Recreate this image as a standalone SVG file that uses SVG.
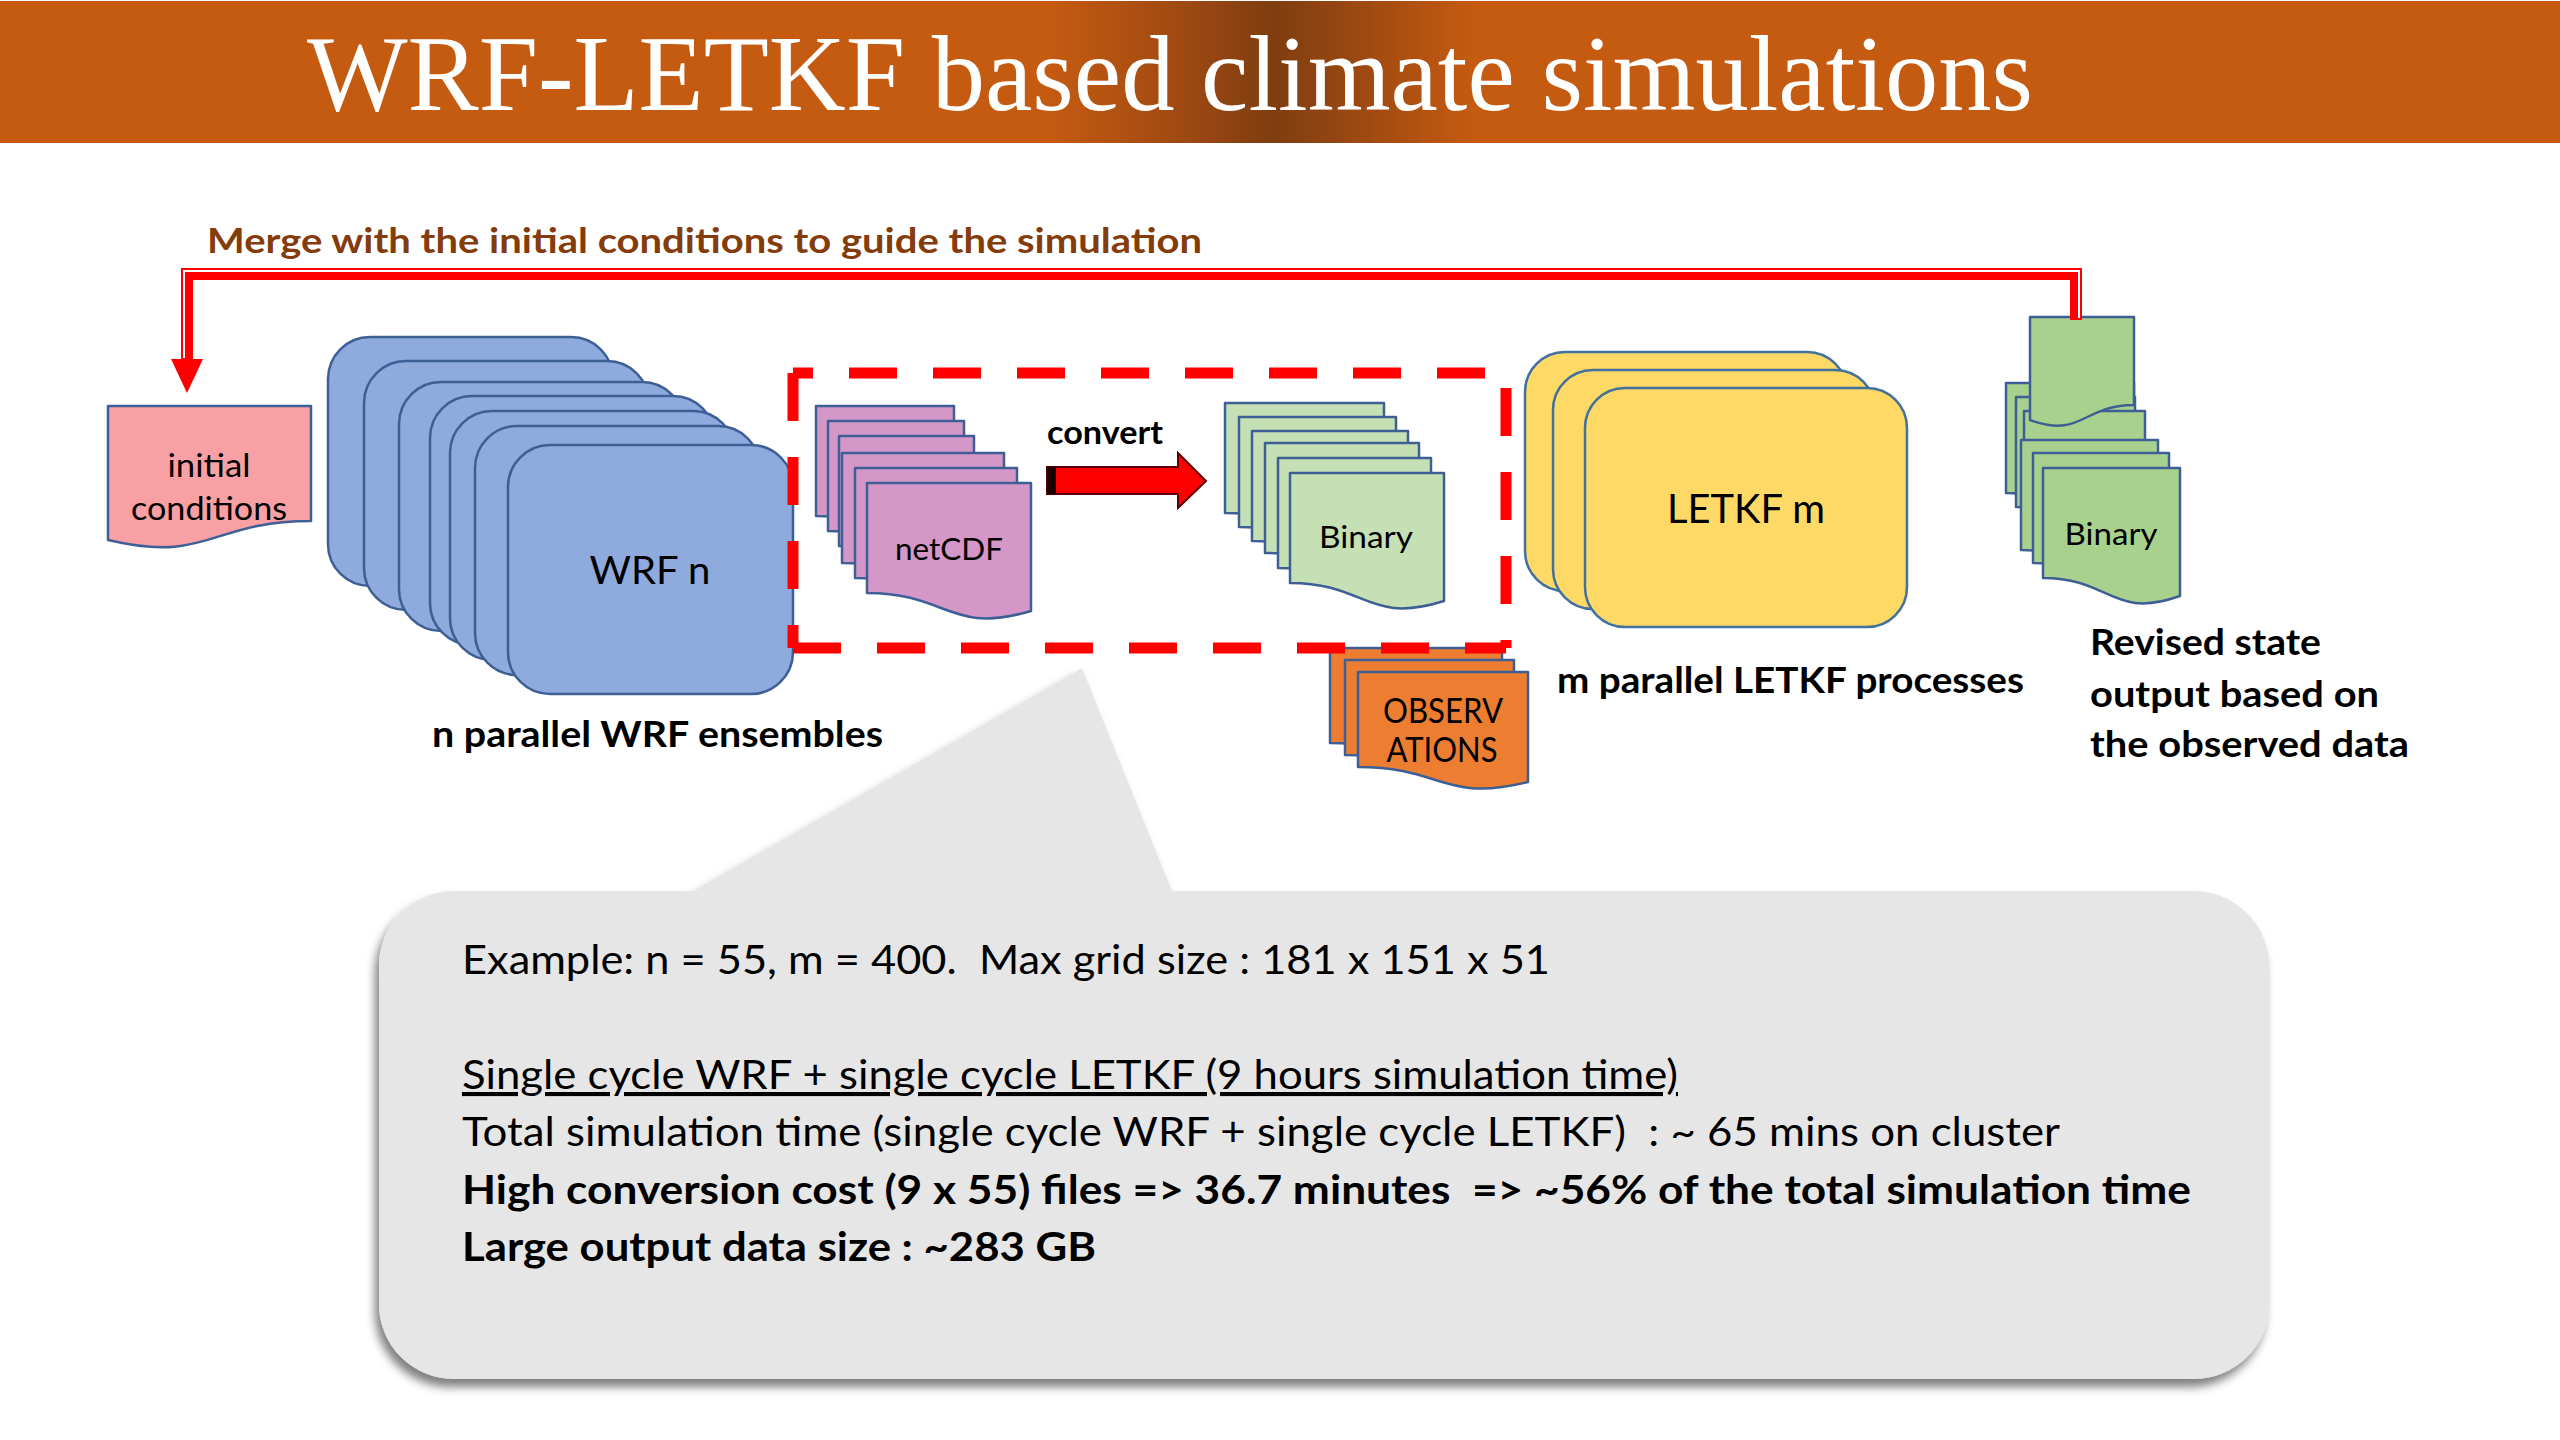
<svg xmlns="http://www.w3.org/2000/svg" width="2560" height="1440" viewBox="0 0 2560 1440">
  <defs>
    <linearGradient id="barGrad" x1="0" y1="0" x2="2560" y2="0" gradientUnits="userSpaceOnUse">
      <stop offset="0" stop-color="#C55A11"/>
      <stop offset="0.41" stop-color="#C55A11"/>
      <stop offset="0.46" stop-color="#A04A12"/>
      <stop offset="0.497" stop-color="#7F3D10"/>
      <stop offset="0.535" stop-color="#A04A12"/>
      <stop offset="0.575" stop-color="#C55A11"/>
      <stop offset="1" stop-color="#C55A11"/>
    </linearGradient>
    <filter id="shadow" x="-5%" y="-10%" width="110%" height="125%">
      <feDropShadow dx="-4" dy="8" stdDeviation="5" flood-color="#000" flood-opacity="0.5"/>
    </filter>
  </defs>
  <style>
    .doc { stroke: #3E5F95; stroke-width: 2.5; stroke-linejoin: round; }
    .wrf { fill: #8FAADC; stroke: #3E5F95; stroke-width: 2.5; }
    .letkf { fill: #FFD966; stroke: #41719C; stroke-width: 2.5; }
    .pink { fill: #F9A0A4; }
    .nc { fill: #D597C7; }
    .bin { fill: #C5E0B4; }
    .bin2 { fill: #A9D18E; }
    .obs { fill: #ED7D31; }
    .t { font-family: Lato, "Open Sans", "Liberation Sans", sans-serif; fill: #000; }
    .b { font-weight: bold; }
    .c { text-anchor: middle; }
    .dash { stroke: #FF0000; stroke-width: 11; fill: none; stroke-dasharray: 48 36; }
  </style>

  <rect width="2560" height="1440" fill="#FFFFFF"/>

  <g id="title-bar">
    <rect x="0" y="1" width="2560" height="142" fill="url(#barGrad)"/>
    <text x="307" y="110" font-family="'Liberation Serif', 'Times New Roman', serif" font-size="107" fill="#FFFFFF" textLength="1726" lengthAdjust="spacingAndGlyphs">WRF-LETKF based climate simulations</text>
  </g>

  <g id="callout">
    <path d="M454,891 H693 L1082,668 L1172,891 H2194 A75,75 0 0 1 2269,966 V1304 A75,75 0 0 1 2194,1379 H454 A75,75 0 0 1 379,1304 V966 A75,75 0 0 1 454,891 Z" fill="#E7E6E6" filter="url(#shadow)"/>
    <text class="t" x="462" y="974" font-size="41" textLength="1088" lengthAdjust="spacingAndGlyphs" xml:space="preserve">Example: n = 55, m = 400.  Max grid size : 181 x 151 x 51</text>
    <text class="t" x="462" y="1089" font-size="41" textLength="1216" lengthAdjust="spacingAndGlyphs" text-decoration="underline">Single cycle WRF + single cycle LETKF (9 hours simulation time)</text>
    <text class="t" x="462" y="1146" font-size="41" textLength="1598" lengthAdjust="spacingAndGlyphs" xml:space="preserve">Total simulation time (single cycle WRF + single cycle LETKF)  : ~ 65 mins on cluster</text>
    <text class="t b" x="462" y="1204" font-size="41" textLength="1729" lengthAdjust="spacingAndGlyphs" xml:space="preserve">High conversion cost (9 x 55) files =&gt; 36.7 minutes  =&gt; ~56% of the total simulation time</text>
    <text class="t b" x="462" y="1261" font-size="41" textLength="634" lengthAdjust="spacingAndGlyphs">Large output data size : ~283 GB</text>
  </g>

  <g id="initial-conditions">
    <path class="doc pink" d="M108,406 H311 V521 C209.5,521 209.5,564 108,540 Z"/>
    <text class="t c" x="209" y="477" font-size="32" textLength="83" lengthAdjust="spacingAndGlyphs">initial</text>
    <text class="t c" x="209" y="520" font-size="32" textLength="156" lengthAdjust="spacingAndGlyphs">conditions</text>
  </g>

  <g id="wrf-ensembles">
    <rect class="wrf" x="328" y="337" width="285" height="249" rx="42"/>
    <rect class="wrf" x="364" y="361" width="285" height="249" rx="42"/>
    <rect class="wrf" x="399" y="382" width="285" height="249" rx="42"/>
    <rect class="wrf" x="430" y="396" width="285" height="249" rx="42"/>
    <rect class="wrf" x="450" y="411" width="285" height="249" rx="42"/>
    <rect class="wrf" x="475" y="426" width="285" height="249" rx="42"/>
    <rect class="wrf" x="508" y="445" width="285" height="249" rx="42"/>
    <text class="t c" x="650" y="584" font-size="38" textLength="121" lengthAdjust="spacingAndGlyphs">WRF n</text>
    <text class="t b" x="432" y="747" font-size="37" textLength="451" lengthAdjust="spacingAndGlyphs">n parallel WRF ensembles</text>
  </g>

  <g id="netcdf-files">
    <path class="doc nc" d="M816,406 H954 V534 C885,558 885,516 816,516 Z"/>
    <path class="doc nc" d="M828,421 H964 V549 C896,573 896,531 828,531 Z"/>
    <path class="doc nc" d="M839,436 H974 V564 C906.5,588 906.5,546 839,546 Z"/>
    <path class="doc nc" d="M842,453 H1004 V581 C923,605 923,563 842,563 Z"/>
    <path class="doc nc" d="M855,468 H1017 V596 C936,620 936,578 855,578 Z"/>
    <path class="doc nc" d="M867,483 H1031 V611 C949,635 949,593 867,593 Z"/>
    <text class="t c" x="949" y="560" font-size="31" textLength="108" lengthAdjust="spacingAndGlyphs">netCDF</text>
  </g>

  <g id="binary-files">
    <path class="doc bin" d="M1225,403 H1384 V531 C1304.5,555 1304.5,513 1225,513 Z"/>
    <path class="doc bin" d="M1239,417 H1396 V545 C1317.5,569 1317.5,527 1239,527 Z"/>
    <path class="doc bin" d="M1252,431 H1408 V559 C1330,583 1330,541 1252,541 Z"/>
    <path class="doc bin" d="M1265,443 H1419 V571 C1342,595 1342,553 1265,553 Z"/>
    <path class="doc bin" d="M1278,458 H1431 V586 C1354.5,610 1354.5,568 1278,568 Z"/>
    <path class="doc bin" d="M1290,473 H1444 V601 C1367,625 1367,583 1290,583 Z"/>
    <text class="t c" x="1366" y="548" font-size="31" textLength="94" lengthAdjust="spacingAndGlyphs">Binary</text>
  </g>

  <g id="observations">
    <path class="doc obs" d="M1330,648 H1502 V758 C1416,779 1416,743 1330,743 Z"/>
    <path class="doc obs" d="M1345,660 H1514 V770 C1429.5,791 1429.5,755 1345,755 Z"/>
    <path class="doc obs" d="M1358,672 H1528 V782 C1443,803 1443,767 1358,767 Z"/>
    <text class="t c" x="1443" y="723" font-size="34" textLength="120" lengthAdjust="spacingAndGlyphs">OBSERV</text>
    <text class="t c" x="1442" y="762" font-size="34" textLength="111" lengthAdjust="spacingAndGlyphs">ATIONS</text>
  </g>

  <g id="conversion-region">
    <line class="dash" x1="793" y1="373" x2="1506" y2="373" stroke-dashoffset="28"/>
    <line class="dash" x1="793" y1="648" x2="1506" y2="648"/>
    <line class="dash" x1="793" y1="373" x2="793" y2="648"/>
    <line class="dash" x1="1506" y1="373" x2="1506" y2="648" stroke-dashoffset="69"/>
  </g>

  <g id="letkf-processes">
    <rect class="letkf" x="1525" y="352" width="322" height="239" rx="40"/>
    <rect class="letkf" x="1553" y="370" width="322" height="239" rx="40"/>
    <rect class="letkf" x="1585" y="388" width="322" height="239" rx="40"/>
    <text class="t c" x="1746" y="523" font-size="40" textLength="158" lengthAdjust="spacingAndGlyphs">LETKF m</text>
    <text class="t b" x="1557" y="693" font-size="37" textLength="467" lengthAdjust="spacingAndGlyphs">m parallel LETKF processes</text>
  </g>

  <g id="revised-state">
    <path class="doc bin2" d="M2006,383 H2134 V511 C2070,535 2070,493 2006,493 Z"/>
    <path class="doc bin2" d="M2016,397 H2135 V525 C2075.5,549 2075.5,507 2016,507 Z"/>
    <path class="doc bin2" d="M2024,411 H2145 V539 C2084.5,563 2084.5,521 2024,521 Z"/>
    <path class="doc bin2" d="M2030,317 H2134 V405 C2082,405 2082,439 2030,420 Z"/>
    <path class="doc bin2" d="M2021,440 H2158 V568 C2089.5,592 2089.5,550 2021,550 Z"/>
    <path class="doc bin2" d="M2033,453 H2169 V581 C2101,605 2101,563 2033,563 Z"/>
    <path class="doc bin2" d="M2043,468 H2180 V596 C2111.5,620 2111.5,578 2043,578 Z"/>
    <text class="t c" x="2111" y="545" font-size="31" textLength="93" lengthAdjust="spacingAndGlyphs">Binary</text>
    <text class="t b" x="2090" y="655" font-size="37" textLength="231" lengthAdjust="spacingAndGlyphs">Revised state</text>
    <text class="t b" x="2090" y="707" font-size="37" textLength="289" lengthAdjust="spacingAndGlyphs">output based on</text>
    <text class="t b" x="2090" y="757" font-size="37" textLength="319" lengthAdjust="spacingAndGlyphs">the observed data</text>
  </g>

  <g id="connectors">
    <g id="merge-feedback">
      <path d="M2076,320 V274 H187 V360" fill="none" stroke="#FF0000" stroke-width="12"/>
      <path d="M2079,318 V271 H184 V358" fill="none" stroke="#FFFFFF" stroke-width="2"/>
      <polygon points="171,359 203,359 187,393" fill="#FF0000"/>
      <text class="t b" x="207" y="253" font-size="35" fill="#843C0C" style="fill:#843C0C" textLength="995" lengthAdjust="spacingAndGlyphs">Merge with the initial conditions to guide the simulation</text>
    </g>
    <g id="convert-arrow">
      <path d="M1047,467 H1178 V453 L1206,481 L1178,508 V494 H1047 Z" fill="#FF0000" stroke="#5A0000" stroke-width="2" stroke-linejoin="miter"/>
      <rect x="1047" y="467" width="9" height="27" fill="#1A0000"/>
      <text class="t b" x="1047" y="444" font-size="33" textLength="116" lengthAdjust="spacingAndGlyphs">convert</text>
    </g>
  </g>
</svg>
